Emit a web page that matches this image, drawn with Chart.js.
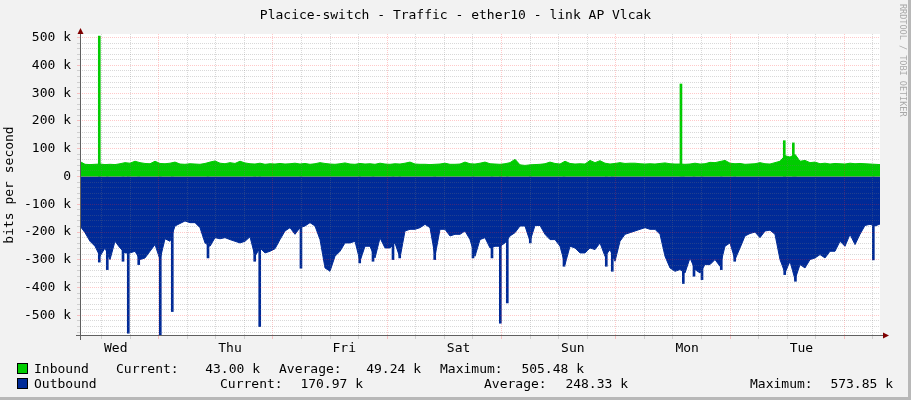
<!DOCTYPE html>
<html>
<head>
<meta charset="utf-8">
<script src="https://cdn.jsdelivr.net/npm/chart.js@4/dist/chart.umd.min.js"></script>
<style>
  html, body { margin: 0; padding: 0; background: #f2f2f2; }
  canvas { display: block; }
</style>
</head>
<body>
<canvas id="TrafficChart" width="911" height="400"></canvas>
<script>
// one sample every 1.05 h, starting Wed 04:30 (values in k bits/s)
var STEP = 1.05;
var dayLabels = ['Wed', 'Thu', 'Fri', 'Sat', 'Sun', 'Mon', 'Tue'];

var inbound = [
    54, 44, 43, 44, 45, 43, 44, 43, 46, 50, 48, 55, 50, 47, 46, 55, 47, 46, 48, 52,
    45, 44, 46, 45, 44, 47, 52, 56, 48, 46, 50, 47, 55, 49, 46, 45, 48, 44, 46, 45,
    47, 45, 46, 48, 45, 47, 44, 46, 50, 47, 45, 44, 46, 49, 45, 44, 47, 45, 46, 44,
    48, 45, 44, 46, 45, 48, 52, 45, 44, 44, 43, 44, 45, 48, 44, 44, 45, 52, 46, 45,
    48, 52, 46, 45, 44, 46, 50, 62, 42, 40, 42, 43, 44, 46, 52, 47, 45, 55, 47, 45,
    46, 45, 58, 50, 57, 48, 45, 47, 50, 47, 48, 48, 46, 45, 46, 45, 47, 49, 46, 45,
    45, 44, 45, 48, 45, 46, 51, 50, 54, 58, 48, 46, 47, 44, 45, 46, 50, 46, 45, 50,
    55, 75, 70, 80, 55, 58, 50, 52, 46, 48, 45, 47, 46, 45, 48, 46, 47, 46, 45, 44, 43
];

var outbound = [
    178, 202, 233, 251, 287, 257, 299, 233, 257, 275, 275, 269, 299, 293, 269, 245, 299, 224, 233, 178,
    169, 160, 166, 166, 184, 239, 251, 220, 224, 220, 227, 233, 239, 233, 217, 287, 257, 275, 269, 260,
    227, 196, 184, 208, 184, 178, 166, 178, 227, 329, 341, 287, 269, 239, 239, 233, 305, 251, 251, 293,
    221, 257, 257, 239, 293, 196, 190, 190, 184, 172, 184, 287, 190, 190, 214, 208, 208, 196, 227, 287,
    227, 220, 257, 251, 251, 239, 214, 202, 178, 178, 233, 176, 176, 208, 227, 227, 251, 317, 251, 257,
    275, 275, 257, 263, 239, 287, 263, 305, 233, 208, 202, 196, 190, 184, 190, 190, 208, 287, 329, 341,
    335, 347, 293, 335, 347, 317, 317, 299, 323, 251, 239, 299, 257, 214, 205, 200, 220, 196, 193, 208,
    299, 347, 305, 371, 317, 329, 299, 293, 281, 293, 269, 269, 233, 251, 208, 245, 208, 176, 172, 178, 171
];

// short peaks (hour from start, value)
var inSpikeHours = [4.05, 126.2, 147.9, 149.8];
var inSpikeValues = [505.5, 333, 129, 121];
var outSpikeHours = [
    4.05, 5.73, 9.03, 10.14, 12.33, 16.86, 19.38, 26.88, 36.69, 37.74, 46.4,
    58.74, 61.53, 65.73, 67.14, 74.49, 82.53, 86.52, 88.27, 89.73, 94.56,
    101.64, 110.52, 111.78, 126.7, 128.94, 130.62, 134.67, 137.49, 147.99, 150.24, 166.6
];
var outSpikeValues = [
    308, 335, 305, 564, 317, 574, 486, 293, 305, 540, 330,
    311, 305, 299, 293, 299, 293, 293, 528, 455, 239,
    323, 323, 341, 385, 359, 371, 335, 305, 353, 377, 300
];

var legendIn = ['43.00 k', '49.24 k', '505.48 k'];
var legendOut = ['170.97 k', '248.33 k', '573.85 k'];

var GREEN = '#00cc00';
var BLUE = '#002a97';
var MAJOR = 'rgba(255, 40, 40, 0.25)';
var MINOR = 'rgba(120, 120, 120, 0.28)';
var FONT = "'DejaVu Sans Mono', monospace";

function isDayLine(h) { return ((h - 19.5) % 24) === 0; }

var rrdDecor = {
    id: 'rrdDecor',
    beforeDraw: function(chart) {
        var c = chart.ctx, a = chart.chartArea;
        c.save();
        c.fillStyle = '#f2f2f2';
        c.fillRect(0, 0, 911, 400);
        c.fillStyle = '#b8b8b8';
        c.fillRect(908, 0, 3, 400);
        c.fillRect(0, 397, 911, 3);
        c.fillStyle = '#ffffff';
        c.fillRect(a.left, a.top, a.right - a.left, a.bottom - a.top);
        c.restore();
    },
    afterDraw: function(chart) {
        var c = chart.ctx;
        c.save();
        // axes
        c.fillStyle = '#606060';
        c.fillRect(80, 31, 1, 309);
        c.fillRect(76, 335, 808, 1);
        // arrows
        c.fillStyle = '#7f0000';
        c.beginPath();
        c.moveTo(80.5, 28); c.lineTo(83.5, 34); c.lineTo(77.5, 34); c.closePath(); c.fill();
        c.beginPath();
        c.moveTo(889, 335.5); c.lineTo(883, 332.5); c.lineTo(883, 338.5); c.closePath(); c.fill();

        c.fillStyle = '#000';
        c.font = '13px ' + FONT;
        c.textBaseline = 'alphabetic';
        c.textAlign = 'center';
        c.fillText('Placice-switch - Traffic - ether10 - link AP Vlcak', 455.5, 19);

        // y title
        c.save();
        c.translate(10, 185);
        c.rotate(-Math.PI / 2);
        c.textBaseline = 'middle';
        c.fillText('bits per second', 0, 0);
        c.restore();

        // side credit
        c.save();
        c.translate(902.5, 4);
        c.rotate(Math.PI / 2);
        c.textAlign = 'left';
        c.textBaseline = 'middle';
        c.fillStyle = '#a8a8a8';
        c.font = '8.5px ' + FONT;
        c.fillText('RRDTOOL / TOBI OETIKER', 0, 0);
        c.restore();

        // legend
        c.lineWidth = 1;
        c.strokeStyle = '#000';
        c.fillStyle = GREEN;
        c.fillRect(17.5, 363.5, 10, 10);
        c.strokeRect(17.5, 363.5, 10, 10);
        c.fillStyle = BLUE;
        c.fillRect(17.5, 378.5, 10, 10);
        c.strokeRect(17.5, 378.5, 10, 10);

        c.fillStyle = '#000';
        c.textAlign = 'left';
        c.fillText('Inbound', 34, 373);
        c.fillText('Current:', 116, 373);
        c.fillText('Average:', 279, 373);
        c.fillText('Maximum:', 440, 373);
        c.fillText('Outbound', 34, 388);
        c.fillText('Current:', 220, 388);
        c.fillText('Average:', 484, 388);
        c.fillText('Maximum:', 750, 388);
        c.textAlign = 'right';
        c.fillText(legendIn[0], 260, 373);
        c.fillText(legendIn[1], 421, 373);
        c.fillText(legendIn[2], 584, 373);
        c.fillText(legendOut[0], 363, 388);
        c.fillText(legendOut[1], 628, 388);
        c.fillText(legendOut[2], 893, 388);
        c.restore();
    }
};

var ctx = document.getElementById('TrafficChart').getContext('2d');
var trafficChart = new Chart(ctx, {
    type: 'line',
    data: {
        datasets: [{
            label: 'Inbound',
            data: inbound.map(function(v, i) { return {x: i * STEP, y: v}; }),
            fill: 'origin',
            backgroundColor: GREEN,
            borderColor: GREEN,
            borderWidth: 1,
            pointRadius: 0,
            tension: 0
        }, {
            label: 'Outbound',
            data: outbound.map(function(v, i) { return {x: i * STEP, y: -v}; }),
            fill: 'origin',
            backgroundColor: BLUE,
            borderColor: BLUE,
            borderWidth: 1,
            pointRadius: 0,
            tension: 0
        }, {
            type: 'bar',
            label: 'Inbound peaks',
            data: inSpikeHours.map(function(h, i) { return {x: h, y: inSpikeValues[i]}; }),
            backgroundColor: GREEN,
            barThickness: 2,
            grouped: false
        }, {
            type: 'bar',
            label: 'Outbound peaks',
            data: outSpikeHours.map(function(h, i) { return {x: h, y: -outSpikeValues[i]}; }),
            backgroundColor: BLUE,
            barThickness: 2,
            grouped: false
        }]
    },
    options: {
        responsive: false,
        animation: false,
        devicePixelRatio: 1,
        events: [],
        layout: { padding: { top: 34, right: 31, left: 0, bottom: 0 } },
        plugins: { legend: { display: false }, tooltip: { enabled: false } },
        scales: {
            x: {
                type: 'linear',
                min: 0,
                max: 168,
                offset: false,
                afterFit: function(s) { s.height = 64; },
                afterBuildTicks: function(s) {
                    var t = [];
                    for (var h = 1.5; h < 168; h += 6) t.push({value: h});
                    s.ticks = t;
                },
                grid: {
                    z: 1,
                    lineWidth: 1,
                    tickLength: 3,
                    color: function(c) { return c.tick && isDayLine(c.tick.value) ? MAJOR : MINOR; },
                    tickColor: function(c) { return c.tick && isDayLine(c.tick.value) ? MAJOR : MINOR; }
                },
                border: { display: false, dash: [1, 1] },
                ticks: {
                    autoSkip: false,
                    maxRotation: 0,
                    minRotation: 0,
                    padding: 2,
                    color: '#000',
                    font: { family: FONT, size: 13 },
                    callback: function(v) {
                        var d = (v - 7.5) / 24;
                        return Number.isInteger(d) ? dayLabels[d] : '';
                    }
                }
            },
            y: {
                min: -574,
                max: 513,
                afterFit: function(s) { s.width = 80; },
                afterBuildTicks: function(s) {
                    var t = [];
                    for (var v = -560; v <= 500; v += 20) t.push({value: v});
                    s.ticks = t;
                },
                grid: {
                    z: 1,
                    lineWidth: 1,
                    tickLength: 3,
                    color: function(c) { return c.tick && c.tick.value % 100 === 0 ? MAJOR : MINOR; },
                    tickColor: function(c) { return c.tick && c.tick.value % 100 === 0 ? MAJOR : MINOR; }
                },
                border: { display: false, dash: [1, 1] },
                ticks: {
                    autoSkip: false,
                    padding: 6,
                    color: '#000',
                    font: { family: FONT, size: 13 },
                    callback: function(v) {
                        if (v % 100 !== 0) return '';
                        if (v === 0) return '0';
                        return (v < 0 ? '-' : '') + Math.abs(v) + ' k';
                    }
                }
            }
        }
    },
    plugins: [rrdDecor]
});
</script>
</body>
</html>
